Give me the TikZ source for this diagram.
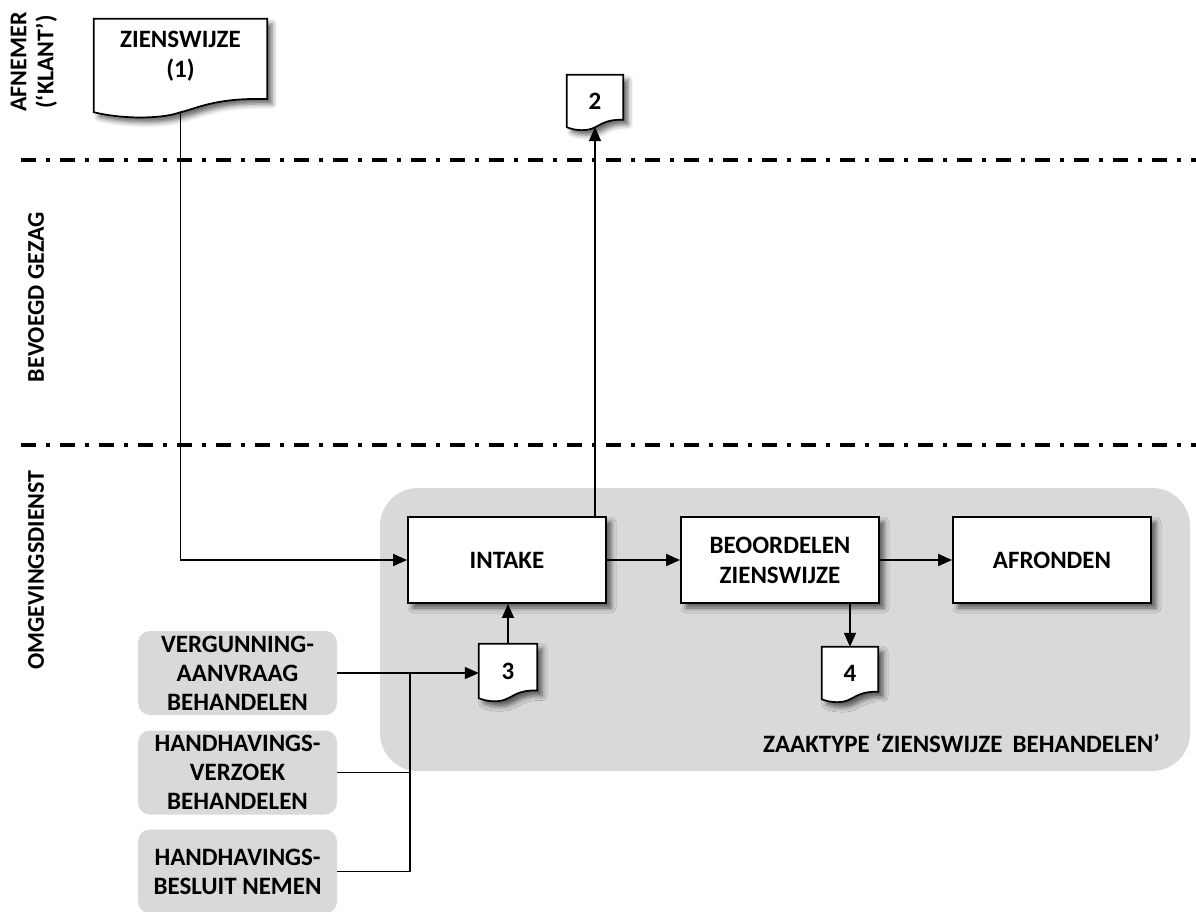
\documentclass[tikz,border=0pt]{standalone}
\usepackage{fontspec}
\setmainfont{Carlito}
\usetikzlibrary{arrows.meta,calc,backgrounds,shadows.blur}

\definecolor{zaakgray}{RGB}{217,217,217}

\tikzset{
  procbox/.style={draw, line width=1.9pt, fill=white, minimum width=198pt, minimum height=86pt,
    font=\fontsize{25}{30}\selectfont\bfseries, align=center,
    blur shadow={shadow xshift=5pt, shadow yshift=-5pt, shadow blur radius=5pt, shadow opacity=60}},
  srcbox/.style={fill=zaakgray, rounded corners=12pt, minimum width=199pt, minimum height=84pt,
    font=\fontsize{25}{29}\selectfont\bfseries, align=center},
  doctext/.style={font=\fontsize{25}{30}\selectfont\bfseries, align=center, inner sep=0pt},
  docline/.style={draw, line width=1.7pt, fill=white,
    blur shadow={shadow xshift=5pt, shadow yshift=-5pt, shadow blur radius=5pt, shadow opacity=60}},
  flow/.style={line width=1.7pt, -{Triangle[length=14pt,width=12pt]}},
  link/.style={line width=1.7pt},
  lanesep/.style={line width=3.8pt, dash pattern=on 15pt off 10pt on 4pt off 10pt},
  lanelabel/.style={rotate=90, font=\fontsize{24}{27}\selectfont\bfseries, align=center}
}

% document outline round a named node
\newcommand{\docshape}[1]{%
  \begin{scope}[x={($(#1.south east)-(#1.south west)$)}, y={($(#1.north west)-(#1.south west)$)}, shift={(#1.south west)}]
    \path[docline] (0,1) -- (1,1) -- (1,.14) .. controls (.7,.16) and (.58,.03) .. (.5,0)
      .. controls (.38,-.08) and (.15,-.07) .. (0,0) -- cycle;
  \end{scope}}

\begin{document}
\begin{tikzpicture}[x=1pt, y=-1pt]
  \useasboundingbox (0,0) rectangle (1196,911);
  % Lanes
  \draw[lanesep] (21,160) -- (1196,160);
  \draw[lanesep] (21,445) -- (1196,445);
  \node[lanelabel] (afnemer) at (34,62) {AFNEMER\\(‘KLANT’)};
  \node[lanelabel] (bevoegd) at (36,297) {BEVOEGD GEZAG};
  \node[lanelabel] (omgeving) at (36,570) {OMGEVINGSDIENST};
  % Process steps
  \node[procbox] (intake) at (507,560) {INTAKE};
  \node[procbox] (beoordelen) at (780,560) {BEOORDELEN\\ZIENSWIJZE};
  \node[procbox] (afronden) at (1052,560) {AFRONDEN};
  % Documents
  \node[doctext, minimum width=173pt, minimum height=93pt, text depth=22pt] (zienswijze) at (180.5,65.5) {ZIENSWIJZE\\(1)};
  \node[doctext, minimum width=56pt, minimum height=52pt] (doc2) at (595,101) {2};
  \node[doctext, minimum width=58pt, minimum height=54pt] (doc3) at (508,671) {3};
  \node[doctext, minimum width=56pt, minimum height=52pt] (doc4) at (850,673) {4};
  % Sources
  \node[srcbox] (vergunning) at (237.5,673) {VERGUNNING-\\AANVRAAG\\BEHANDELEN};
  \node[srcbox] (hhverzoek) at (237.5,772.5) {HANDHAVINGS-\\VERZOEK\\BEHANDELEN};
  \node[srcbox] (hhbesluit) at (237.5,871.5) {HANDHAVINGS-\\BESLUIT NEMEN};
  \node[font=\fontsize{25}{29}\selectfont\bfseries, anchor=east, inner sep=0pt] (zaaktype) at (1160,743) {ZAAKTYPE ‘ZIENSWIJZE\hspace{10pt}BEHANDELEN’};
  % Connectors
  \coordinate (merge) at ($(vergunning.east)+(73,0)$);
  \draw[flow] (vergunning.east) -- (vergunning.east -| doc3.west);
  \draw[link] (hhverzoek.east) -| (merge);
  \draw[link] (hhbesluit.east) -| (merge);
  \draw[flow] (doc3.north) -- (doc3.north |- intake.south);
  \draw[flow] (intake) -- (beoordelen);
  \draw[flow] (beoordelen) -- (afronden);
  \draw[flow] (intake.north -| doc2.south) -- (doc2.south);
  \draw[flow] (beoordelen.south -| doc4.north) -- (doc4.north);
  \begin{scope}[on background layer]
    \fill[zaakgray, rounded corners=38pt] (380,488) rectangle (1190,771);
    \draw[flow] (zienswijze.center) |- (intake.west);
    \docshape{zienswijze}
    \docshape{doc2}
    \docshape{doc3}
    \docshape{doc4}
  \end{scope}
\end{tikzpicture}
\end{document}
